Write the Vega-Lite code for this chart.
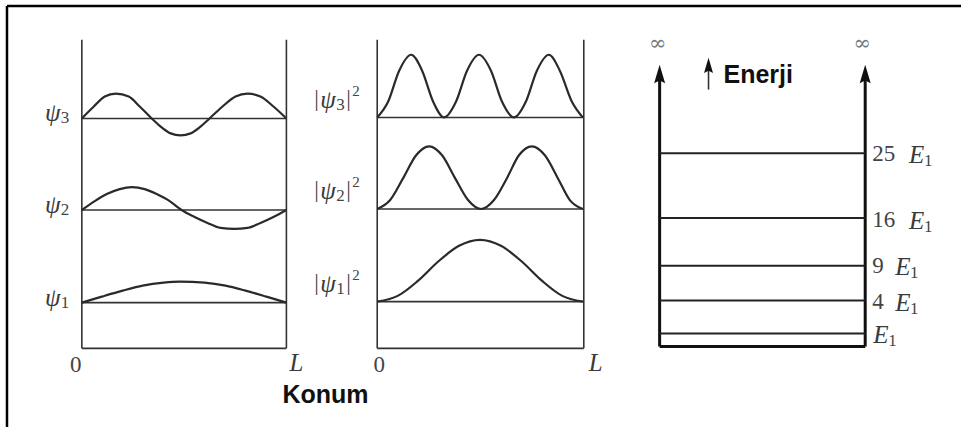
{
  "$schema": "https://vega.github.io/schema/vega-lite/v6.json",
  "width": 963,
  "height": 429,
  "autosize": {"type": "fit", "contains": "padding"},
  "padding": 0,
  "background": "white",
  "config": {"view": {"stroke": null}},
  "datasets": {
    "curves": [
      {"g":"p1","x":82,"y":304},{"g":"p1","x":102,"y":298},{"g":"p1","x":123,"y":292},{"g":"p1","x":143,"y":287},{"g":"p1","x":164,"y":284},{"g":"p1","x":180,"y":283},{"g":"p1","x":205,"y":284},{"g":"p1","x":226,"y":287},{"g":"p1","x":246,"y":292},{"g":"p1","x":267,"y":298},{"g":"p1","x":287,"y":304},
      {"g":"p2","x":82,"y":211},{"g":"p2","x":95,"y":202},{"g":"p2","x":107,"y":195},{"g":"p2","x":120,"y":190},{"g":"p2","x":132,"y":188},{"g":"p2","x":145,"y":190},{"g":"p2","x":157,"y":195},{"g":"p2","x":170,"y":202},{"g":"p2","x":182,"y":211},{"g":"p2","x":195,"y":218},{"g":"p2","x":208,"y":224},{"g":"p2","x":221,"y":229},{"g":"p2","x":235,"y":230},{"g":"p2","x":248,"y":229},{"g":"p2","x":261,"y":224},{"g":"p2","x":274,"y":218},{"g":"p2","x":287,"y":211},
      {"g":"p3","x":82,"y":119},{"g":"p3","x":94,"y":107},{"g":"p3","x":105,"y":97},{"g":"p3","x":116,"y":94},{"g":"p3","x":129,"y":97},{"g":"p3","x":140,"y":107},{"g":"p3","x":152,"y":119},{"g":"p3","x":162,"y":128},{"g":"p3","x":171,"y":134},{"g":"p3","x":181,"y":136},{"g":"p3","x":191,"y":134},{"g":"p3","x":200,"y":128},{"g":"p3","x":210,"y":119},{"g":"p3","x":223,"y":107},{"g":"p3","x":236,"y":97},{"g":"p3","x":248,"y":94},{"g":"p3","x":261,"y":97},{"g":"p3","x":274,"y":107},{"g":"p3","x":287,"y":119},
      {"g":"q1","x":378,"y":303},{"g":"q1","x":399,"y":297},{"g":"q1","x":419,"y":282},{"g":"q1","x":440,"y":262},{"g":"q1","x":460,"y":247},{"g":"q1","x":481,"y":241},{"g":"q1","x":502,"y":247},{"g":"q1","x":522,"y":262},{"g":"q1","x":543,"y":282},{"g":"q1","x":563,"y":297},{"g":"q1","x":584,"y":303},
      {"g":"q2","x":378,"y":210},{"g":"q2","x":391,"y":201},{"g":"q2","x":404,"y":179},{"g":"q2","x":417,"y":156},{"g":"q2","x":430,"y":147},{"g":"q2","x":443,"y":156},{"g":"q2","x":456,"y":179},{"g":"q2","x":469,"y":201},{"g":"q2","x":482,"y":210},{"g":"q2","x":495,"y":201},{"g":"q2","x":508,"y":179},{"g":"q2","x":520,"y":156},{"g":"q2","x":533,"y":147},{"g":"q2","x":546,"y":156},{"g":"q2","x":559,"y":179},{"g":"q2","x":571,"y":201},{"g":"q2","x":584,"y":210},
      {"g":"q3","x":378,"y":118},{"g":"q3","x":389,"y":102},{"g":"q3","x":400,"y":71},{"g":"q3","x":412,"y":55},{"g":"q3","x":423,"y":71},{"g":"q3","x":434,"y":102},{"g":"q3","x":445,"y":118},{"g":"q3","x":457,"y":102},{"g":"q3","x":468,"y":71},{"g":"q3","x":480,"y":55},{"g":"q3","x":492,"y":71},{"g":"q3","x":503,"y":102},{"g":"q3","x":515,"y":118},{"g":"q3","x":527,"y":102},{"g":"q3","x":538,"y":71},{"g":"q3","x":550,"y":55},{"g":"q3","x":561,"y":71},{"g":"q3","x":573,"y":102},{"g":"q3","x":584,"y":118}
    ],
    "thinRules": [
      {"x":82,"x2":82,"y":40,"y2":350},{"x":287,"x2":287,"y":40,"y2":350},{"x":82,"x2":287,"y":350,"y2":350},
      {"x":82,"x2":287,"y":119,"y2":119},{"x":82,"x2":287,"y":211,"y2":211},{"x":82,"x2":287,"y":304,"y2":304},
      {"x":378,"x2":378,"y":40,"y2":350},{"x":585,"x2":585,"y":40,"y2":350},{"x":378,"x2":585,"y":350,"y2":350},
      {"x":378,"x2":585,"y":118,"y2":118},{"x":378,"x2":585,"y":210,"y2":210},{"x":378,"x2":585,"y":303,"y2":303},
      {"x":710,"x2":710,"y":70,"y2":90}
    ],
    "boxRules": [
      {"x":661,"x2":661,"y":72,"y2":348},{"x":867,"x2":867,"y":72,"y2":348},{"x":661,"x2":867,"y":348,"y2":348}
    ],
    "levels": [
      {"x":661,"x2":867,"y":154,"y2":154},{"x":661,"x2":867,"y":219,"y2":219},{"x":661,"x2":867,"y":267,"y2":267},{"x":661,"x2":867,"y":302,"y2":302},{"x":661,"x2":867,"y":335,"y2":335}
    ],
    "border": [
      {"x":7,"x2":963,"y":6,"y2":6},{"x":7,"x2":7,"y":6,"y2":429}
    ],
    "bigHeads": [{"x":661,"y":76},{"x":867,"y":76}],
    "smallHead": [{"x":710,"y":67}],
    "italicMain": [
      {"t":"ψ","x":45,"y":114},{"t":"ψ","x":45,"y":206},{"t":"ψ","x":45,"y":299},
      {"t":"ψ","x":321,"y":100},{"t":"ψ","x":321,"y":192},{"t":"ψ","x":321,"y":285},
      {"t":"L","x":290,"y":365},{"t":"L","x":590,"y":365},
      {"t":"E","x":911,"y":156},{"t":"E","x":911,"y":222},{"t":"E","x":897,"y":268},{"t":"E","x":897,"y":304},{"t":"E","x":875,"y":337}
    ],
    "uprightMain": [
      {"t":"|","x":315,"y":99},{"t":"|","x":347,"y":99},
      {"t":"|","x":315,"y":191},{"t":"|","x":347,"y":191},
      {"t":"|","x":315,"y":284},{"t":"|","x":347,"y":284},
      {"t":"25","x":874,"y":155},{"t":"16","x":874,"y":221},{"t":"9","x":874,"y":267},{"t":"4","x":874,"y":303}
    ],
    "zeros": [{"t":"0","x":76,"y":367},{"t":"0","x":380,"y":367}],
    "subs": [
      {"t":"3","x":61,"y":119},{"t":"2","x":61,"y":211},{"t":"1","x":61,"y":304},
      {"t":"3","x":337,"y":105},{"t":"2","x":337,"y":197},{"t":"1","x":337,"y":290},
      {"t":"1","x":926,"y":162},{"t":"1","x":926,"y":228},{"t":"1","x":912,"y":274},{"t":"1","x":912,"y":310},{"t":"1","x":890,"y":343}
    ],
    "sups": [{"t":"2","x":353,"y":91},{"t":"2","x":353,"y":183},{"t":"2","x":353,"y":276}],
    "bold": [{"t":"Konum","x":283,"y":397},{"t":"Enerji","x":725,"y":75}],
    "inf": [{"t":"∞","x":659,"y":44},{"t":"∞","x":864,"y":44}]
  },
  "encoding": {
    "x": {"field": "x", "type": "quantitative", "scale": {"domain": [0, 963], "nice": false, "zero": false}, "axis": null},
    "y": {"field": "y", "type": "quantitative", "scale": {"domain": [0, 429], "nice": false, "zero": false, "reverse": true}, "axis": null}
  },
  "layer": [
    {"data": {"name": "border"}, "mark": {"type": "rule", "color": "black", "strokeWidth": 2.5}, "encoding": {"x2": {"field": "x2"}, "y2": {"field": "y2"}}},
    {"data": {"name": "thinRules"}, "mark": {"type": "rule", "color": "#333333", "strokeWidth": 1.6}, "encoding": {"x2": {"field": "x2"}, "y2": {"field": "y2"}}},
    {"data": {"name": "boxRules"}, "mark": {"type": "rule", "color": "#111111", "strokeWidth": 3}, "encoding": {"x2": {"field": "x2"}, "y2": {"field": "y2"}}},
    {"data": {"name": "levels"}, "mark": {"type": "rule", "color": "#222222", "strokeWidth": 2}, "encoding": {"x2": {"field": "x2"}, "y2": {"field": "y2"}}},
    {"data": {"name": "curves"}, "mark": {"type": "line", "color": "#2a2a2a", "strokeWidth": 2.2, "interpolate": "monotone"}, "encoding": {"detail": {"field": "g"}}},
    {"data": {"name": "bigHeads"}, "mark": {"type": "point", "filled": true, "color": "#111111", "opacity": 1, "size": 484, "shape": "M0,-1L0.5,0.7L0,0.45L-0.5,0.7Z"}},
    {"data": {"name": "smallHead"}, "mark": {"type": "point", "filled": true, "color": "#111111", "opacity": 1, "size": 324, "shape": "M0,-1L0.5,0.7L0,0.45L-0.5,0.7Z"}},
    {"data": {"name": "italicMain"}, "mark": {"type": "text", "align": "left", "baseline": "middle", "font": "Liberation Serif", "fontStyle": "italic", "fontSize": 25, "color": "#3a3a3a"}, "encoding": {"text": {"field": "t"}}},
    {"data": {"name": "uprightMain"}, "mark": {"type": "text", "align": "left", "baseline": "middle", "font": "Liberation Serif", "fontSize": 23, "color": "#444444"}, "encoding": {"text": {"field": "t"}}},
    {"data": {"name": "zeros"}, "mark": {"type": "text", "align": "center", "baseline": "middle", "font": "Liberation Serif", "fontSize": 23, "color": "#444444"}, "encoding": {"text": {"field": "t"}}},
    {"data": {"name": "subs"}, "mark": {"type": "text", "align": "left", "baseline": "middle", "font": "Liberation Serif", "fontSize": 17, "color": "#444444"}, "encoding": {"text": {"field": "t"}}},
    {"data": {"name": "sups"}, "mark": {"type": "text", "align": "left", "baseline": "middle", "font": "Liberation Serif", "fontSize": 15, "color": "#444444"}, "encoding": {"text": {"field": "t"}}},
    {"data": {"name": "bold"}, "mark": {"type": "text", "align": "left", "baseline": "middle", "font": "Liberation Sans", "fontWeight": "bold", "fontSize": 25, "color": "#111111"}, "encoding": {"text": {"field": "t"}}},
    {"data": {"name": "inf"}, "mark": {"type": "text", "align": "center", "baseline": "middle", "font": "DejaVu Serif", "fontSize": 21, "color": "#777777"}, "encoding": {"text": {"field": "t"}}}
  ]
}
